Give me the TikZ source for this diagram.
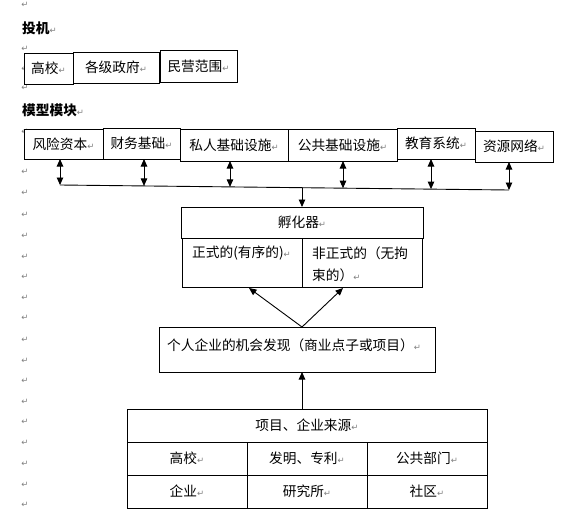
\documentclass[tikz,border=0pt]{standalone}
\usepackage{fontspec}
\setmainfont{Noto Sans CJK SC}
\newfontfamily\markfont{DejaVu Sans}
\usetikzlibrary{arrows.meta}
\definecolor{pmgray}{RGB}{128,128,128}
\newcommand\pmk{{\color{pmgray}\markfont\fontsize{8.5pt}{8.5pt}\selectfont ↵}}
\begin{document}
\begin{tikzpicture}[x=1pt,y=-1pt,
  font=\fontsize{13.7pt}{16pt}\selectfont,
  box/.style={draw, line width=1pt, fill=white, inner sep=0pt, outer sep=0pt, anchor=north west},
  lbl/.style={inner sep=0pt},
  mk/.style={inner sep=0pt},
  arr/.style={line width=0.9pt, -{Triangle[length=7.5pt,width=6.5pt]}},
  dbl/.style={line width=0.9pt, {Triangle[length=7.5pt,width=6.5pt]}-{Triangle[length=7.5pt,width=6.5pt]}},
  bus/.style={line width=0.9pt}]
\useasboundingbox[fill=white] (0,0) rectangle (581,522);
% paragraph marks in the left margin
\foreach \yy [count=\i] in {5,49,69,88,132,172,193,215,236,257,277,298,318,340,361,381,402,422,443,464,485,505}
  \node[mk] (pm\i) at (25,\yy) {\pmk};
% headings
\node[lbl, anchor=west] (h1) at (22,28) {{\bfseries 投机}\pmk};
\node[lbl, anchor=west] (h2) at (22,110) {{\bfseries 模型模块}\pmk};
% row 1
\node[box, minimum width=49pt, minimum height=31pt] (b1) at (24,53) {高校\pmk};
\node[box, minimum width=86pt, minimum height=31pt] (b2) at (73,52) {各级政府\pmk};
\node[box, minimum width=77pt, minimum height=32pt] (b3) at (160,50) {民营范围\pmk};
% row 2
\node[box, minimum width=79pt, minimum height=30pt] (m1) at (24,129) {风险资本\pmk};
\node[box, minimum width=77pt, minimum height=31pt] (m2) at (103,128) {财务基础\pmk};
\node[box, minimum width=108pt, minimum height=32pt] (m3) at (180,129) {私人基础设施\pmk};
\node[box, minimum width=109pt, minimum height=32pt] (m4) at (288,129) {公共基础设施\pmk};
\node[box, minimum width=78pt, minimum height=31pt] (m5) at (397,128) {教育系统\pmk};
\node[box, minimum width=78pt, minimum height=31pt] (m6) at (475,131) {资源网络\pmk};
% bus
\coordinate (u1) at (60,185);
\coordinate (u2) at (144,185.9);
\coordinate (u3) at (230,186.9);
\coordinate (um) at (302,187.7);
\coordinate (u4) at (343,188.2);
\coordinate (u5) at (431,189.1);
\coordinate (u6) at (509,190);
\draw[bus] (u1) -- (u6);
\draw[dbl] (m1.south -| u1) -- (u1);
\draw[dbl] (m2.south -| u2) -- (u2);
\draw[dbl] (m3.south -| u3) -- (u3);
\draw[dbl] (m4.south -| u4) -- (u4);
\draw[dbl] (m5.south -| u5) -- (u5);
\draw[dbl] (m6.south -| u6) -- (u6);
% incubator
\node[box, minimum width=242pt, minimum height=31pt] (inc) at (181,207) {孵化器\pmk};
\node[box, minimum width=120pt, minimum height=49pt] (incL) at (182,238) {};
\node[box, minimum width=120pt, minimum height=49pt] (incR) at (302,238) {};
\node[lbl, anchor=west] (tL) at (192,253) {正式的(有序的)\pmk};
\node[lbl, anchor=west] (tR1) at (312,253) {非正式的（无拘};
\node[lbl, anchor=west] (tR2) at (312,275) {束的）\pmk};
\draw[arr] (um) -- (inc.north);
% individual opportunity
\node[box, minimum width=276pt, minimum height=45pt] (ind) at (159,327) {};
\node[lbl, anchor=west] (tI) at (167,345) {个人企业的机会发现（商业点子或项目）\pmk};
\coordinate (aL) at (249,288);
\coordinate (aR) at (343,288);
\draw[arr] (ind.north -| inc.north) -- (aL);
\draw[arr] (ind.north -| inc.north) -- (aR);
% sources
\node[box, minimum width=360pt, minimum height=33pt] (src) at (127,409) {项目、企业来源\pmk};
\node[box, minimum width=120pt, minimum height=33pt] (s1) at (127,442) {高校\pmk};
\node[box, minimum width=120pt, minimum height=33pt] (s2) at (247,442) {发明、专利\pmk};
\node[box, minimum width=120pt, minimum height=33pt] (s3) at (367,442) {公共部门\pmk};
\node[box, minimum width=120pt, minimum height=33pt] (s4) at (127,475) {企业\pmk};
\node[box, minimum width=120pt, minimum height=33pt] (s5) at (247,475) {研究所\pmk};
\node[box, minimum width=120pt, minimum height=33pt] (s6) at (367,475) {社区\pmk};
\draw[arr] (src.north -| inc.north) -- (ind.south -| inc.north);
\end{tikzpicture}
\end{document}
